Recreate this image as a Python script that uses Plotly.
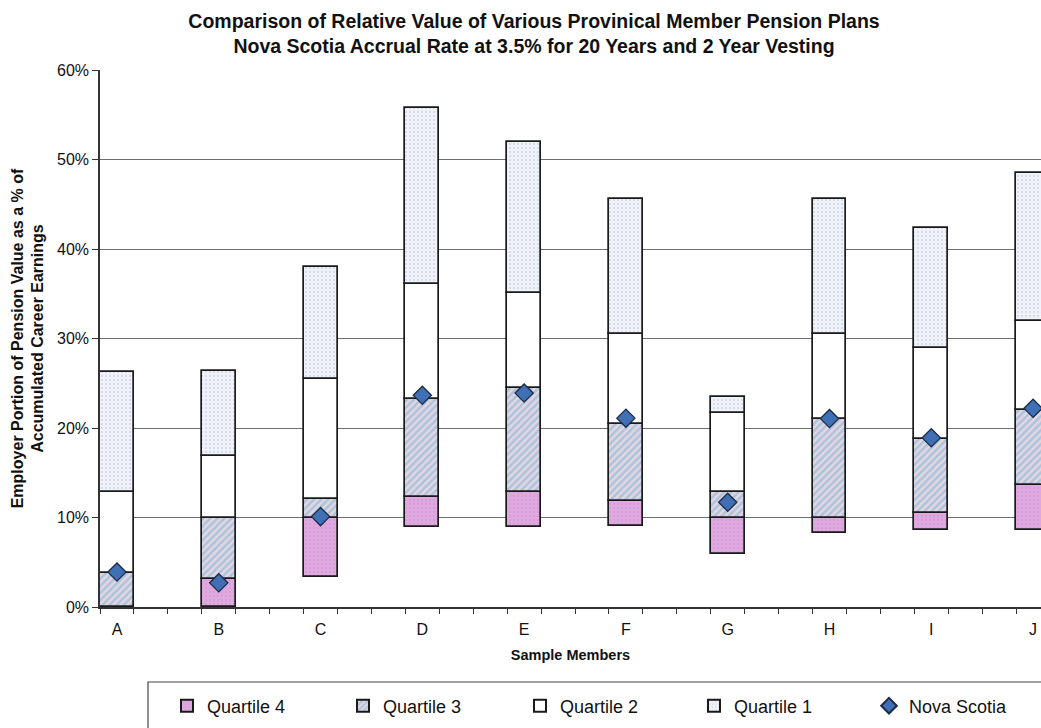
import plotly.graph_objects as go

# Sample members and their quartile boundaries (% of accumulated career earnings)
members = ["A", "B", "C", "D", "E", "F", "G", "H", "I", "J"]
low = [0.0, 0.0, 3.4, 8.95, 8.95, 9.0, 5.9, 8.3, 8.6, 8.6]
q4_top = [0.0, 3.1, 10.0, 12.3, 12.8, 11.8, 9.9, 9.9, 10.5, 13.6]
q3_top = [3.8, 10.0, 12.1, 23.2, 24.45, 20.5, 12.9, 21.05, 18.8, 22.0]
q2_top = [12.9, 16.9, 25.5, 36.1, 35.1, 30.5, 21.65, 30.5, 28.9, 32.0]
q1_top = [26.3, 26.4, 38.0, 55.7, 52.0, 45.6, 23.45, 45.6, 42.3, 48.5]
nova_scotia = [3.9, 2.7, 10.1, 23.65, 23.9, 21.1, 11.7, 21.05, 18.9, 22.2]

y_ticks = [0, 10, 20, 30, 40, 50, 60]
y_tick_labels = ["0%", "10%", "20%", "30%", "40%", "50%", "60%"]

# each member occupies three slots on the axis; its bar fills the first one
slot = 3
xpos = [slot * i + 0.5 for i in range(len(members))]

FONT = "Liberation Sans, Arial, sans-serif"
OUTLINE = dict(color="#1a1a1a", width=1.7)

# plot area in pixels: left 100, top 70, bottom 607, right edge of the page
PL, PT, PB, PW = 100, 70, 607, 941
PH = PB - PT


def px_x(px):
    return (px - PL) / PW


def px_y(py):
    return (PB - py) / PH


fig = go.Figure()

# each legend entry sits in its own legend box so the row can run off the page
entry_x = [182, 358, 535, 709, 884]
legend_ids = ["legend", "legend2", "legend3", "legend4", "legend5"]


def band(name, top, bottom, fill, legend_id, pattern=None):
    heights = [t - b for t, b in zip(top, bottom)]
    marker = dict(color=fill, line=OUTLINE)
    if pattern:
        marker["pattern"] = pattern
    fig.add_trace(go.Bar(
        name=name, x=xpos, y=heights, base=bottom, width=1.0,
        marker=marker, hoverinfo="skip", legend=legend_id,
    ))


band("Quartile 4", q4_top, low, "#dba4dd", "legend",
     dict(shape=".", fgcolor="#c98fcf", bgcolor="#dfa9e0", size=4, solidity=0.2))
band("Quartile 3", q3_top, q4_top, "#d6d8e2", "legend2",
     dict(shape="/", fgcolor="#72b2d4", bgcolor="#e4d6e2", size=5, solidity=0.5))
band("Quartile 2", q2_top, q3_top, "#ffffff", "legend3")
band("Quartile 1", q1_top, q2_top, "#eef1f8", "legend4",
     dict(shape=".", fgcolor="#b4c4e0", bgcolor="#f1f3f9", size=4, solidity=0.25))

fig.add_trace(go.Scatter(
    name="Nova Scotia", x=xpos, y=nova_scotia, mode="markers",
    marker=dict(symbol="diamond", size=14, color="#3f6fb5",
                line=dict(color="#1d2a44", width=1.3)),
    hoverinfo="skip", legend="legend5",
))

# frame around the legend row (runs past the right edge of the page)
fig.add_shape(type="rect", xref="paper", yref="paper",
              x0=px_x(148), x1=1.2, y0=px_y(682), y1=px_y(760),
              line=dict(color="#444444", width=1.2), fillcolor="rgba(0,0,0,0)",
              layer="above")

legend_style = dict(
    orientation="h", xanchor="left", yanchor="middle",
    font=dict(size=18, family=FONT, color="#111111"), itemsizing="constant",
    bgcolor="rgba(0,0,0,0)", itemwidth=30,
)
legends = {}
for lid, ex in zip(legend_ids, entry_x):
    legends[lid] = dict(legend_style, x=px_x(ex - 15), y=px_y(706))

fig.update_layout(
    width=1041, height=728,
    margin=dict(l=PL, r=0, t=PT, b=728 - PB),
    paper_bgcolor="white", plot_bgcolor="white",
    font=dict(family=FONT, size=16, color="#111111"),
    barmode="overlay", bargap=0,
    title=dict(
        text="<b>Comparison of Relative Value of Various Provinical Member Pension Plans<br>"
             "Nova Scotia Accrual Rate at 3.5% for 20 Years and 2 Year Vesting</b>",
        x=534 / 1041, xanchor="center", y=1 - 27.5 / 728, yanchor="middle",
        font=dict(size=19.5, family=FONT, color="#111111"),
    ),
    showlegend=True,
    **legends,
    xaxis=dict(
        range=[0, PW / 33.93], tickvals=xpos, ticktext=members,
        ticks="", showgrid=False, zeroline=False,
        showline=True, linecolor="#333333", linewidth=1.5,
        tickfont=dict(size=16), ticklabelstandoff=7,
        minor=dict(ticks="outside", tick0=0, dtick=1, ticklen=5,
                   tickcolor="#333333", showgrid=False),
        title=dict(text="<b>Sample Members</b>", font=dict(size=14.5), standoff=13),
        fixedrange=True,
    ),
    yaxis=dict(
        range=[0, 60], tickvals=y_ticks, ticktext=y_tick_labels,
        ticks="outside", ticklen=6, tickcolor="#333333",
        showgrid=True, gridcolor="#6e6e6e", gridwidth=1,
        zeroline=False, showline=True, linecolor="#333333", linewidth=1.5,
        tickfont=dict(size=16),
        title=dict(text="<b>Employer Portion of Pension Value as a % of<br>"
                        "Accumulated Career Earnings</b>",
                   font=dict(size=16), standoff=9),
        fixedrange=True,
    ),
)

fig.write_html("out.html")
